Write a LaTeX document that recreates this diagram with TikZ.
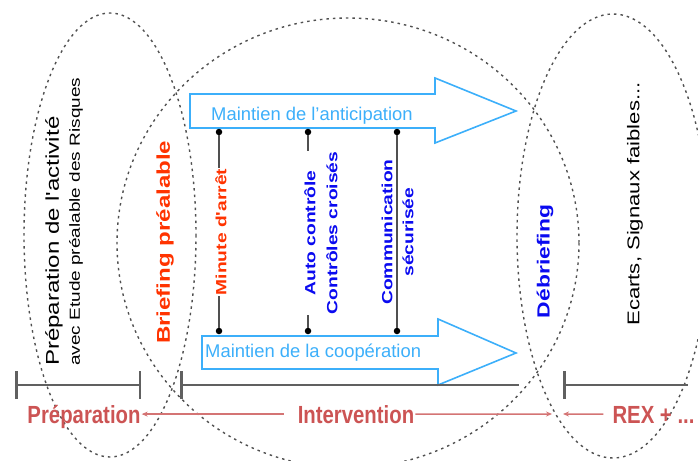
\documentclass[tikz,border=0pt]{standalone}
\usepackage{fontspec}
\setmainfont{Liberation Sans}
\newfontfamily\tallsans[FakeStretch=1.3]{Liberation Sans}
\newfontfamily\flatsans[FakeStretch=0.82]{Liberation Sans}
\usetikzlibrary{arrows.meta}
\definecolor{skyblue}{RGB}{60,175,250}
\definecolor{deepblue}{RGB}{10,10,240}
\definecolor{flame}{RGB}{255,51,0}
\definecolor{phasered}{RGB}{204,84,84}
\definecolor{pointred}{RGB}{212,116,116}
\definecolor{zonegray}{RGB}{80,80,80}
\definecolor{bargray}{RGB}{96,96,96}
\newcommand{\fsize}[1]{\fontsize{#1}{1.2\dimexpr#1pt\relax}\selectfont}
\tikzset{
  zone/.style={draw=zonegray, line width=1.4pt, dash pattern=on 2.5pt off 4pt},
  flow/.style={draw=skyblue, line width=1.6pt, line join=miter},
  flowtext/.style={text=skyblue, font=\fsize{18.4}, inner sep=0pt, anchor=base west},
  upright/.style={rotate=90, inner sep=1pt},
  tag/.style={upright, font=\tallsans\fsize{14.8}\bfseries, align=center},
  dot/.style={circle, fill=black, inner sep=0pt, minimum size=6.5pt},
  link/.style={draw=zonegray, line width=1.6pt},
  bar/.style={draw=bargray, line width=2.5pt},
  phase/.style={text=phasered, font=\flatsans\fsize{24.8}\bfseries, inner sep=1pt,
    text height=17.8pt, text depth=0pt, anchor=base},
  pointer/.style={draw=pointred, line width=1.5pt, -{Stealth[length=6pt,width=5pt]}}
}
\begin{document}
\begin{tikzpicture}[x=1pt, y=-1pt]
\useasboundingbox (0,0) rectangle (698,460);

% zones
\draw[zone] (110,235) ellipse [x radius=86, y radius=222];
\draw[zone] (348,243) ellipse [x radius=231, y radius=225];
\draw[zone] (613,236) ellipse [x radius=96, y radius=222];

% big arrows
\draw[flow] (190,94) -- (435,94) -- (435,78) -- (516,111) -- (435,143) -- (435,128) -- (190,128) -- cycle;
\draw[flow] (202,336) -- (438,336) -- (438,319) -- (516,353) -- (438,385) -- (438,369) -- (202,369) -- cycle;
\node[flowtext] (anticip) at (211,120) {Maintien de l'anticipation};
\node[flowtext] (coop) at (205,357) {Maintien de la coopération};

% links between the two arrows
\node[dot] (top1) at (219,132) {};
\node[dot] (top2) at (308,132) {};
\node[dot] (top3) at (397,132) {};
\node[dot] (bot1) at (219,331) {};
\node[dot] (bot2) at (308,331) {};
\node[dot] (bot3) at (397,331) {};
\draw[link] (top1) -- (bot1);
\draw[link] (top2) -- (bot2);
\draw[link] (top3) -- (bot3);
\node[tag, text=flame, fill=white] (minute) at (221,232) {Minute d'arrêt};
\node[tag, text=deepblue, fill=white, font=\tallsans\fontsize{14.8}{22}\selectfont\bfseries] (auto) at (321,233) {Auto contrôle\\Contrôles croisés};
\node[tag, text=deepblue, font=\tallsans\fontsize{14.8}{21}\selectfont\bfseries] (comm) at (397.5,232) {Communication\\sécurisée};

% side labels
\node[upright, anchor=west, font=\tallsans\fsize{18.5}] (prepact) at (54,367) {Préparation de l'activité};
\node[upright, anchor=west, font=\tallsans\fsize{14.6}] (etude) at (76,367) {avec Etude préalable des Risques};
\node[upright, anchor=west, text=flame, font=\tallsans\fsize{18.5}\bfseries] (briefing) at (165,345) {Briefing préalable};
\node[upright, text=deepblue, font=\tallsans\fsize{17.6}\bfseries] (debrief) at (545,261.5) {Débriefing};
\node[upright, font=\tallsans\fsize{17}] (ecarts) at (635,204) {Ecarts, Signaux faibles...};

% time line
\coordinate (p0) at (15,385);
\coordinate (p1) at (141,385);
\coordinate (i0) at (180,385);
\coordinate (i1) at (519,385);
\coordinate (r0) at (563,385);
\coordinate (r1) at (688,385);
\draw[bar, {Bar[width=28pt]}-{Bar[width=28pt]}] (p0) -- (p1);
\draw[bar, {Bar[width=28pt]}-] (i0) -- (i1);
\draw[bar, {Bar[width=28pt]}-] (r0) -- (r1);

% phases
\node[phase] (prep) at (84,423) {Préparation};
\node[phase] (interv) at (356,423) {Intervention};
\node[phase] (rex) at (653.5,423) {REX + ...};
\coordinate (meetL) at (552,414);
\coordinate (meetR) at (563,414);
\draw[pointer, shorten <=13pt] (interv.west) -- (prep.east);
\draw[pointer] (interv.east) -- (meetL);
\draw[pointer, shorten <=8pt] (rex.west) -- (meetR);
\end{tikzpicture}
\end{document}
